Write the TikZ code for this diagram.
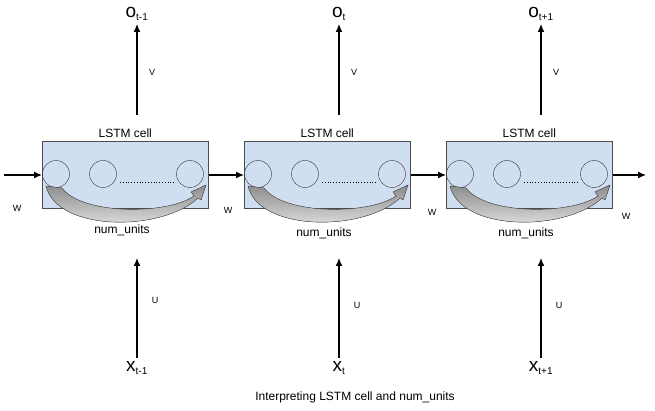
\documentclass[tikz,border=0pt]{standalone}
\usepackage{fontspec}
\setmainfont{Liberation Sans}
\usetikzlibrary{arrows.meta}
\definecolor{cellfill}{RGB}{207,222,240}
\begin{document}
\begin{tikzpicture}[x=1pt,y=-1pt,
  cell/.style={draw=black!70,fill=cellfill,line width=0.5pt},
  unit/.style={draw=black!80,circle,minimum size=27pt,inner sep=0pt,line width=0.4pt},
  arr/.style={-{Latex[length=8pt,width=7pt]},line width=1.3pt},
  lbl/.style={font=\fontsize{9}{10}\selectfont},
  mid/.style={font=\fontsize{12}{14}\selectfont},
  big/.style={font=\fontsize{19}{21}\selectfont}]
\useasboundingbox (0,0) rectangle (655,411);
\foreach \i/\x/\o/\w in {1/42/{t-1}/17, 2/244/t/228, 3/446/{t+1}/432}{
  \node[cell,anchor=north west,minimum width=166pt,minimum height=67pt] (c\i) at (\x,141) {};
  \node[mid,anchor=south] (lc\i) at ([yshift=0pt]c\i.north) {LSTM cell};
  \node[unit] (a\i) at (\x+14,174) {};
  \node[unit] (b\i) at (\x+61,174) {};
  \node[unit] (d\i) at (\x+148,174) {};
  \coordinate (p\i) at (\x+78,182);
  \coordinate (q\i) at (\x+133,182);
  \draw[dotted,line width=0.8pt] (p\i) -- (q\i);
  % curved arrow band
  \fill[top color=black!45,bottom color=black!8,draw=black!70,line width=0.4pt]
    (\x+4,186) -- (\x+20,188) .. controls (\x+40,215) and (\x+125,215) .. (\x+152,196)
    -- (\x+149,192) -- (\x+164,185) -- (\x+159,200) -- (\x+156,198)
    .. controls (\x+120,232) and (\x+15,232) .. (\x+4,186) -- cycle;
  \node[mid] (n\i) at (\x+80,\ifnum\i=1 230\else 233\fi) {num\_units};
  \node[big] (o\i) at (\x+95,14) {o\textsubscript{\normalsize\o}};
  \node[big] (x\i) at (\x+95,368) {x\textsubscript{\normalsize\o}};
  \coordinate (ct\i) at (\x+95,115);
  \coordinate (cb\i) at (\x+95,258);
  \draw[arr] (ct\i) -- (o\i.south);
  \draw[arr] (x\i.north) -- (cb\i);
  \node[lbl] (v\i) at (\x+110,72) {V};
  \node[lbl] (u\i) at (\x+113,\ifnum\i=1 300\else 305\fi) {U};
}
\node[lbl] (w1) at (17,208) {W};
\node[lbl] (w2) at (228,210) {W};
\node[lbl] (w3) at (432,212) {W};
\node[lbl] (w4) at (626,216) {W};
\coordinate (in) at (4,175);
\coordinate (out) at (646,175);
\draw[arr] (in) -- (c1.west|-in);
\draw[arr] (c1.east|-in) -- (c2.west|-in);
\draw[arr] (c2.east|-in) -- (c3.west|-in);
\draw[arr] (c3.east|-in) -- (out);
\node[mid] (cap) at (355,397) {Interpreting LSTM cell and num\_units};
\end{tikzpicture}
\end{document}
